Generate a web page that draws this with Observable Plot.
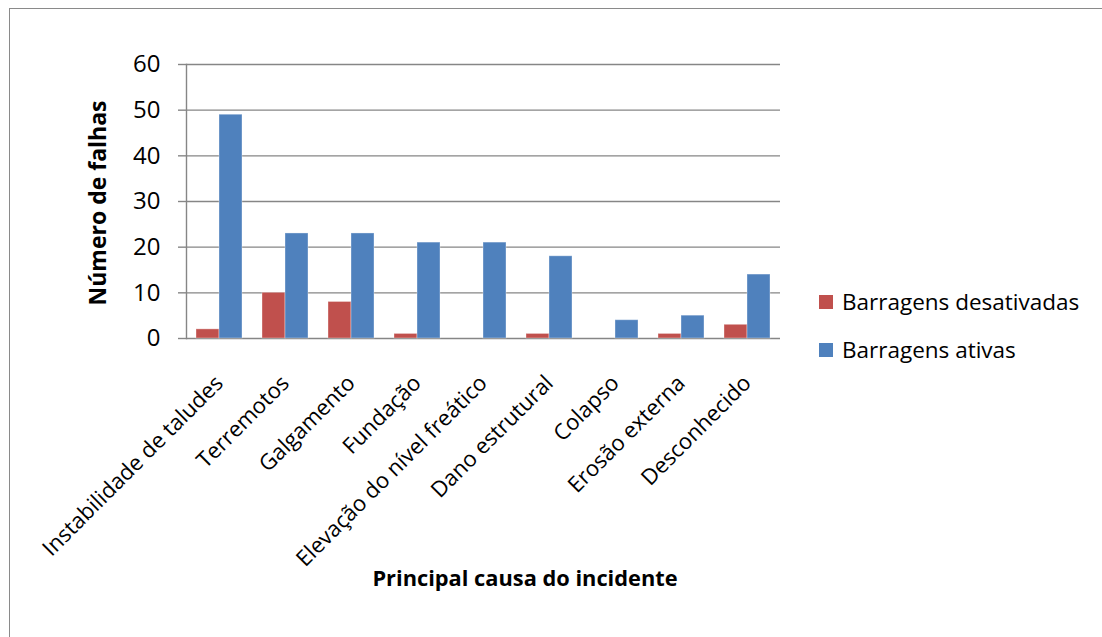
<!DOCTYPE html>
<html>
<head>
<meta charset="utf-8">
<script src="https://cdn.jsdelivr.net/npm/d3@7"></script>
<script src="https://cdn.jsdelivr.net/npm/@observablehq/plot@0.6"></script>
<style>
  html, body { margin: 0; padding: 0; background: #fff; }
  #wrap { position: relative; width: 1102px; height: 637px; overflow: hidden; background: #fff; font-family: "Open Sans", sans-serif; }
  #border { position: absolute; left: 9px; top: 8px; width: 1200px; height: 800px; border-left: 1.5px solid #8a8a8a; border-top: 1.5px solid #8a8a8a; }
  #chart { position: absolute; left: 0; top: 0; }
  .legend-item { position: absolute; left: 819px; display: flex; align-items: center; font-size: 22.5px; color: #000; white-space: nowrap; }
  .swatch { width: 14px; height: 14px; margin-right: 9px; }
  #xtitle { position: absolute; left: 525px; top: 563px; transform: translateX(-50%); font-weight: bold; font-size: 21.8px; white-space: nowrap; }
  #ytitle { position: absolute; left: 97px; top: 203px; transform: translate(-50%, -50%) rotate(-90deg); font-weight: bold; font-size: 23px; white-space: nowrap; }
</style>
</head>
<body>
<div id="wrap">
  <div id="border"></div>
  <div id="chart"></div>
  <div id="legend"></div>
  <div id="xtitle"></div>
  <div id="ytitle"></div>
</div>
<script>
const categories = ["Instabilidade de taludes", "Terremotos", "Galgamento", "Fundação", "Elevação do nível freático", "Dano estrutural", "Colapso", "Erosão externa", "Desconhecido"];
const desativadas = [2, 10, 8, 1, 0, 1, 0, 1, 3];
const ativas = [49, 23, 23, 21, 21, 18, 4, 5, 14];
const seriesNames = ["Barragens desativadas", "Barragens ativas"];
const seriesColors = ["#C0504D", "#4F81BD"];
const yTicks = [0, 10, 20, 30, 40, 50, 60];
const xTitle = "Principal causa do incidente";
const yTitle = "Número de falhas";

const data = categories.flatMap((c, i) => [
  {cause: c, series: seriesNames[0], value: desativadas[i]},
  {cause: c, series: seriesNames[1], value: ativas[i]}
]);

const chart = Plot.plot({
  width: 1102,
  height: 637,
  marginTop: 64,
  marginBottom: 299,
  marginLeft: 184,
  marginRight: 320,
  style: {fontFamily: "'Open Sans', sans-serif", background: "transparent", color: "#000"},
  fx: {domain: categories, padding: 0, label: null},
  x: {domain: seriesNames, paddingInner: 0, paddingOuter: 0.39, axis: null},
  y: {domain: [0, 60], label: null},
  color: {domain: seriesNames, range: seriesColors},
  marks: [
    Plot.ruleY(yTicks, {stroke: "#868686", strokeWidth: 1.4}),
    Plot.barY(data, {fx: "cause", x: "series", y: "value", fill: "series", stroke: "#ffffff", strokeOpacity: 0.35, strokeWidth: 1}),
    Plot.axisY({ticks: yTicks, tickSize: 8, tickPadding: 18, fontSize: 24, stroke: "#868686", strokeWidth: 1.4, fill: "#000", label: null}),
    Plot.frame({anchor: "left", facetAnchor: "left", stroke: "#868686", strokeWidth: 1.4}),
    Plot.axisFx({anchor: "bottom", tickRotate: -45, tickSize: 0, tickPadding: 14, dy: 27, fontSize: 22, fill: "#000", label: null})
  ]
});
document.getElementById("chart").appendChild(chart);

const legend = document.getElementById("legend");
const legendTops = [286, 334];
seriesNames.forEach((name, i) => {
  const item = document.createElement("div");
  item.className = "legend-item";
  item.style.top = legendTops[i] + "px";
  const sw = document.createElement("div");
  sw.className = "swatch";
  sw.style.background = seriesColors[i];
  const label = document.createElement("span");
  label.textContent = name;
  item.appendChild(sw);
  item.appendChild(label);
  legend.appendChild(item);
});
document.getElementById("xtitle").textContent = xTitle;
document.getElementById("ytitle").textContent = yTitle;
</script>
</body>
</html>
